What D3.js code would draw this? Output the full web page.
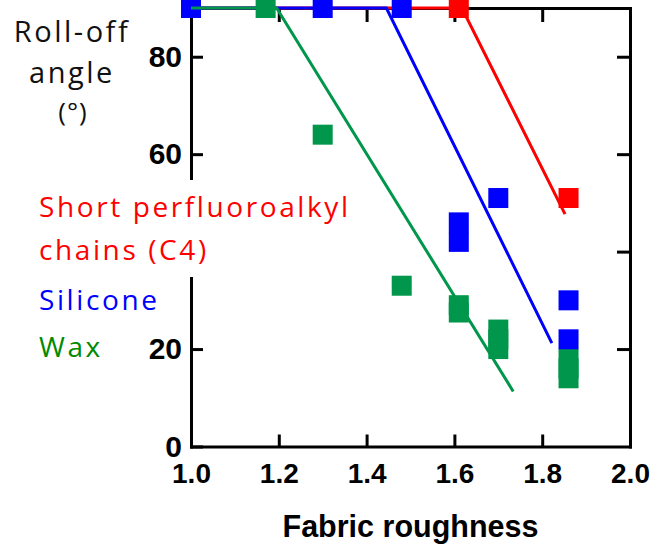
<!DOCTYPE html>
<html>
<head>
<meta charset="utf-8">
<script src="https://cdn.jsdelivr.net/npm/d3@7"></script>
<style>
  body { margin: 0; background: #fff; }
  svg { display: block; }
</style>
</head>
<body>
<div></div>
<script>
var width = 662,
    height = 545;

var xTicks = [1.0, 1.2, 1.4, 1.6, 1.8, 2.0],
    yTicks = [0, 20, 40, 60, 80];

// measured points, [roughness, roll-off angle]
var redPoints = [[1.61, 90], [1.86, 51]];
var bluePoints = [[1.0, 90], [1.30, 90], [1.48, 90], [1.61, 46], [1.61, 42],
                  [1.70, 51], [1.86, 30], [1.86, 22]];
var greenPoints = [[1.17, 90], [1.30, 64], [1.48, 33], [1.61, 29], [1.61, 27.5],
                   [1.70, 24], [1.70, 22], [1.70, 20], [1.86, 18], [1.86, 16], [1.86, 14]];

// fitted trend lines
var redLine = [[1.0, 90], [1.617, 90], [1.852, 47.7]];
var blueLine = [[1.0, 90], [1.445, 90], [1.822, 21.2]];
var greenLine = [[1.0, 90], [1.195, 90], [1.734, 11.3]];

var legendLabels = [["Short perfluoroalkyl", "chains (C4)"], ["Silicone"], ["Wax"]];

var red = "#ff0000", blue = "#0000ff", green = "#00964b";

var margin = {left: 191, right: 32, top: 8, bottom: 98.5};

var svg = d3.select("div").append("svg")
    .attr("width", width)
    .attr("height", height);

var x = d3.scaleLinear().domain([1.0, 2.0]).range([margin.left, width - margin.right]);
var y = d3.scaleLinear().domain([0, 90]).range([height - margin.bottom, margin.top]);

var boldFont = "'Liberation Sans', Arial, sans-serif";
var textFont = "'Open Sans', sans-serif";

// axes, ticks pointing in
var xAxisB = svg.append("g")
    .attr("transform", "translate(0," + y(0) + ")")
    .call(d3.axisBottom(x).tickValues(xTicks).tickFormat(d3.format(".1f"))
          .tickSizeInner(-12).tickSizeOuter(0).tickPadding(16.5));
// the 40 label sits under the legend in the original, so it is left blank
var yAxisL = svg.append("g")
    .attr("transform", "translate(" + x(1.0) + ",0)")
    .call(d3.axisLeft(y).tickValues(yTicks).tickFormat(function (d) { return d == 40 ? "" : d; })
          .tickSizeInner(-12).tickSizeOuter(0).tickPadding(9));
var xAxisT = svg.append("g")
    .attr("transform", "translate(0," + y(90) + ")")
    .call(d3.axisTop(x).tickValues(xTicks.slice(1, -1)).tickFormat("").tickSizeInner(-14).tickSizeOuter(0));
var yAxisR = svg.append("g")
    .attr("transform", "translate(" + x(2.0) + ",0)")
    .call(d3.axisRight(y).tickValues(yTicks.slice(1)).tickFormat("").tickSizeInner(-13).tickSizeOuter(0));

[xAxisB, yAxisL, xAxisT, yAxisR].forEach(function (g) {
  g.selectAll("path, line").attr("stroke", "#000").attr("stroke-width", 3);
  g.select(".domain").attr("stroke-linecap", "square");
});
xAxisB.selectAll("text").attr("font-family", boldFont).attr("font-weight", "bold")
    .attr("font-size", 28).attr("fill", "#000");
yAxisL.selectAll("text").attr("font-family", boldFont).attr("font-weight", "bold")
    .attr("font-size", 30).attr("fill", "#000");

var line = d3.line().x(function (d) { return x(d[0]); }).y(function (d) { return y(d[1]); });
var sq = 20;

function lineFor(data, color) {
  svg.append("path").attr("d", line(data)).attr("fill", "none")
     .attr("stroke", color).attr("stroke-width", 3);
}
function squares(data, color) {
  svg.append("g").selectAll("rect").data(data).enter().append("rect")
     .attr("x", function (d) { return x(d[0]) - sq/2; })
     .attr("y", function (d) { return y(d[1]) - sq/2; })
     .attr("width", sq).attr("height", sq)
     .attr("fill", color);
}

lineFor(redLine, red);
lineFor(blueLine, blue);
squares(bluePoints.slice(0, 3), blue);
lineFor(greenLine, green);
squares(greenPoints, green);
squares(redPoints, red);
squares(bluePoints.slice(3), blue);

// axis titles
svg.append("text")
    .attr("x", x(1.5)).attr("y", 537)
    .attr("text-anchor", "middle")
    .attr("font-family", boldFont).attr("font-weight", "bold").attr("font-size", 30.5)
    .text("Fabric roughness");

var ylab = svg.append("text")
    .attr("text-anchor", "middle")
    .attr("font-family", textFont).attr("font-size", 29).attr("letter-spacing", 2.5)
    .attr("fill", "#111");
ylab.append("tspan").attr("x", 72).attr("y", 42).text("Roll-off");
ylab.append("tspan").attr("x", 72).attr("y", 83).text("angle");
ylab.append("tspan").attr("x", 73).attr("y", 121).attr("font-size", 26).attr("letter-spacing", 1).text("(°)");

// legend, with a white box that hides the left axis behind it
svg.append("rect").attr("x", 30).attr("y", 180).attr("width", 332).attr("height", 97).attr("fill", "#fff");

var legendColors = [red, blue, "#008a00"];
var legendY = [[217, 260], [310], [357]];
legendLabels.forEach(function (lines, i) {
  lines.forEach(function (t, k) {
    svg.append("text")
       .attr("x", 39).attr("y", legendY[i][k])
       .attr("font-family", textFont).attr("font-size", 28).attr("letter-spacing", 2.6)
       .attr("fill", legendColors[i])
       .text(t);
  });
});
</script>
</body>
</html>
